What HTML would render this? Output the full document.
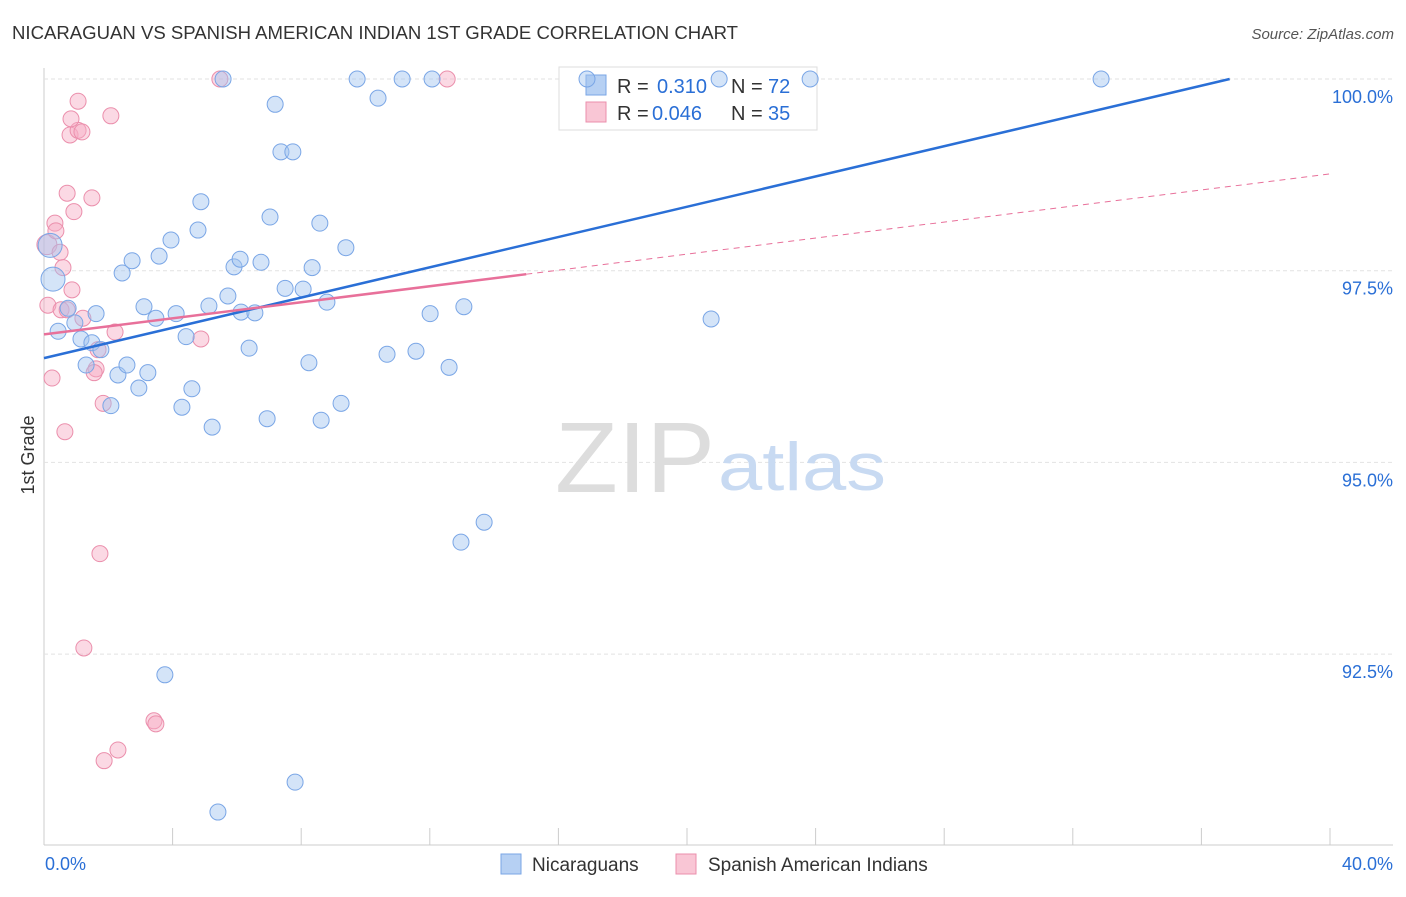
<!DOCTYPE html>
<html><head><meta charset="utf-8"><style>
body{margin:0;background:#fff;font-family:"Liberation Sans",sans-serif;}
svg text{font-family:"Liberation Sans",sans-serif;}
</style></head><body>
<svg id="chart" width="1406" height="892">
<text x="12" y="39" font-size="18" fill="#333" textLength="726" lengthAdjust="spacingAndGlyphs">NICARAGUAN VS SPANISH AMERICAN INDIAN 1ST GRADE CORRELATION CHART</text>
<text x="1394" y="39" font-size="15" fill="#555" font-style="italic" text-anchor="end">Source: ZipAtlas.com</text>
<text x="34" y="455" font-size="18" fill="#333" transform="rotate(-90 34 455)" text-anchor="middle">1st Grade</text>
<g id="grid"></g>
<text x="555" y="492" font-size="100" fill="#ddd" textLength="160" lengthAdjust="spacingAndGlyphs" font-family="Liberation Serif">ZIP</text>
<text x="718" y="490" font-size="68" fill="#c8daf2" textLength="168" lengthAdjust="spacingAndGlyphs">atlas</text>
<g>
<rect x="559" y="67" width="258" height="63" fill="#fff" stroke="#ddd"/>
<rect x="586" y="75" width="20" height="20" fill="#b6d0f3" stroke="#7aa6e6"/>
<text x="617" y="93" font-size="20" fill="#333">R =</text>
<text x="657" y="93" font-size="20" fill="#2a6fd6">0.310</text>
<text x="731" y="93" font-size="20" fill="#333">N =</text>
<text x="768" y="93" font-size="20" fill="#2a6fd6">72</text>
<rect x="586" y="102" width="20" height="20" fill="#f9c6d5" stroke="#eb8fac"/>
<text x="617" y="120" font-size="20" fill="#333">R =</text>
<text x="652" y="120" font-size="20" fill="#2a6fd6">0.046</text>
<text x="731" y="120" font-size="20" fill="#333">N =</text>
<text x="768" y="120" font-size="20" fill="#2a6fd6">35</text>
</g>
<g id="pts"></g>
<g id="lines"></g>
<g>
<rect x="501" y="854" width="20" height="20" fill="#b6d0f3" stroke="#7aa6e6"/>
<text x="532" y="871" font-size="19" fill="#333">Nicaraguans</text>
<rect x="676" y="854" width="20" height="20" fill="#f9c6d5" stroke="#eb8fac"/>
<text x="708" y="871" font-size="19" fill="#333">Spanish American Indians</text>
</g>
</svg>
<script>
const blueX=[0.28,0.19,0.44,0.75,1.62,1.15,1.49,1.77,0.96,1.31,2.08,2.30,2.58,2.95,3.23,2.43,2.74,3.58,3.95,3.11,3.48,4.11,4.42,4.60,4.29,5.23,4.79,4.88,5.13,5.72,5.91,6.10,6.13,6.56,6.38,6.75,7.03,7.50,8.06,8.34,8.58,8.80,9.39,8.24,6.94,8.62,9.24,7.19,7.37,7.74,5.57,9.74,10.39,11.14,12.07,16.89,21.00,23.83,32.88,10.67,11.57,12.60,12.01,13.06,20.75,13.69,12.97,3.76,7.81,5.41];
const blueY=[97.39,97.83,96.71,97.01,96.94,96.61,96.56,96.47,96.82,96.27,95.74,96.14,96.27,95.97,96.17,97.47,97.63,97.69,97.90,97.03,96.88,96.94,96.64,95.96,95.72,95.46,98.03,98.40,97.04,97.17,97.55,97.65,96.96,96.95,96.49,97.61,98.20,97.27,97.26,97.54,98.12,97.09,97.80,96.30,95.57,95.55,95.77,99.67,99.05,99.05,100,100,99.75,100,100,100,100,100,100,96.41,96.45,96.24,96.94,97.03,96.87,94.22,93.96,92.23,90.83,90.44];
const pinkX=[0.09,0.12,0.34,0.37,0.50,0.59,0.87,0.53,0.72,1.21,2.21,4.88,0.25,1.62,1.56,1.84,0.65,1.74,1.24,3.42,3.48,2.30,1.87,0.72,1.49,0.93,0.81,1.06,1.18,0.84,1.06,2.08,5.47,12.54,1.68];
const pinkY=[97.84,97.05,98.12,98.02,97.74,97.54,97.25,96.99,96.99,96.88,96.70,96.61,96.10,96.22,96.17,95.77,95.40,93.81,92.58,91.63,91.59,91.25,91.11,98.51,98.45,98.27,99.27,99.33,99.31,99.48,99.71,99.52,100,100,96.47];
const yTicks=[100,97.5,95,92.5];
const yTickLabels=["100.0%","97.5%","95.0%","92.5%"];
const xEndLabels=["0.0%","40.0%"];
const blueFit=[96.36,0.0987];
const pinkFit=[96.67,0.0523];
const X=v=>44+v*32.15, Y=v=>79+(100-v)*76.68;
const NS="http://www.w3.org/2000/svg";
function mk(p,t,a){const e=document.createElementNS(NS,t);for(const k in a)e.setAttribute(k,a[k]);p.appendChild(e);return e;}
const g=document.getElementById('grid');
let e=mk(g,'line',{x1:44,y1:68,x2:44,y2:845,stroke:'#ccc'});

e=mk(g,'line',{x1:44,y1:845,x2:1393,y2:845,stroke:'#ccc'});

yTicks.forEach((t,i)=>{
 e=mk(g,'line',{x1:44,x2:1393,y1:Y(t),y2:Y(t),stroke:'#e2e2e2','stroke-dasharray':'4 3'});
 
 e=mk(g,'text',{x:1393,y:Y(t)+24,'font-size':18,fill:'#2a6fd6','text-anchor':'end'});e.textContent=yTickLabels[i];
 
});
for(let i=0;i<=10;i++){e=mk(g,'line',{x1:X(i*4),x2:X(i*4),y1:828,y2:845,stroke:'#ccc'});
 }
e=mk(g,'text',{x:45,y:870,'font-size':18,fill:'#2a6fd6'});e.textContent=xEndLabels[0];

e=mk(g,'text',{x:1393,y:870,'font-size':18,fill:'#2a6fd6','text-anchor':'end'});e.textContent=xEndLabels[1];

const pg=document.getElementById('pts');
pinkX.forEach((x,i)=>{e=mk(pg,'circle',{cx:X(x),cy:Y(pinkY[i]),r:i==0?10:8,fill:'rgba(246,170,195,0.45)',stroke:'#eb8fac','stroke-width':1});
 });
blueX.forEach((x,i)=>{e=mk(pg,'circle',{cx:X(x),cy:Y(blueY[i]),r:i<2?12:8,fill:'rgba(160,195,240,0.45)',stroke:'#7aa6e6','stroke-width':1});
 });
const lg=document.getElementById('lines');
const bxEnd=(100-blueFit[0])/blueFit[1];
e=mk(lg,'line',{x1:X(0),y1:Y(blueFit[0]),x2:X(bxEnd),y2:Y(100),stroke:'#2a6fd6','stroke-width':2.5});

e=mk(lg,'line',{x1:X(0),y1:Y(pinkFit[0]),x2:X(15),y2:Y(pinkFit[0]+15*pinkFit[1]),stroke:'#e8709a','stroke-width':2.5});

e=mk(lg,'line',{x1:X(15),y1:Y(pinkFit[0]+15*pinkFit[1]),x2:X(40),y2:Y(pinkFit[0]+40*pinkFit[1]),stroke:'#e8709a','stroke-width':1,'stroke-dasharray':'6 5'});

</script>
</body></html>
